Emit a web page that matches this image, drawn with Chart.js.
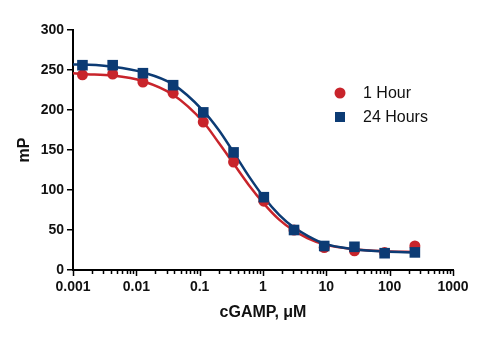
<!DOCTYPE html>
<html>
<head>
<meta charset="utf-8">
<script src="https://cdn.jsdelivr.net/npm/chart.js@4"></script>
<style>
  html, body { margin: 0; padding: 0; background: #fff; }
  #wrap { width: 500px; height: 337px; }
</style>
</head>
<body>
<div id="wrap"><canvas id="chart" width="500" height="337"></canvas></div>
<script>
// Donnees (concentrations cGAMP en uM, dilutions 1:3)
var conc = [0.00141, 0.00423, 0.0127, 0.0381, 0.114, 0.343, 1.03, 3.09, 9.26, 27.8, 83.3, 250]
var mp1h = [244, 245, 235, 221, 185, 135, 86, 50, 28, 24, 22, 30]
var mp24h = [256, 256, 246, 231, 197, 147, 91, 50, 30, 29, 21, 22]

// Courbes ajustees
var curveX = [0.001, 0.00141, 0.00423, 0.0127, 0.0381, 0.114, 0.2, 0.343, 0.6, 1.03, 1.8, 3.09, 5, 9.26, 27.8, 83.3, 250]
var curve1h = [246, 245, 243, 236, 219, 185, 159, 133, 106, 83, 63, 49, 40, 32, 26, 23.5, 22.5]
var curve24h = [257, 257, 254, 247, 232, 199, 175, 147, 117, 91, 69, 53, 43, 33, 26, 23, 22]

var labels = ['1 Hour', '24 Hours']
var decades = [0.001, 0.01, 0.1, 1, 10, 100, 1000]

var red = '#C8242B'
var blue = '#0C3B74'

function toPoints(xs, ys){
    var pts = []
    for (var i = 0; i < xs.length; i++){
        pts.push({x: xs[i], y: ys[i]})
    }
    return pts
}

// Legende dessinee dans la zone du graphique
var legendPlugin = {
    id: 'legendeInterne',
    afterDraw: function(chart){
        var ctx = chart.ctx
        var items = [
            {label: labels[0], color: red, style: 'circle'},
            {label: labels[1], color: blue, style: 'rect'}
        ]
        ctx.save()
        ctx.font = '16px "Liberation Sans", Arial, sans-serif'
        ctx.textBaseline = 'middle'
        for (var i = 0; i < items.length; i++){
            var y = 93 + i * 24
            ctx.fillStyle = items[i].color
            if (items[i].style == 'circle'){
                ctx.beginPath()
                ctx.arc(340, y, 5.5, 0, Math.PI * 2)
                ctx.fill()
            } else {
                ctx.fillRect(335, y - 5, 10, 10)
            }
            ctx.fillStyle = '#111'
            ctx.fillText(items[i].label, 363, y + 1)
        }
        ctx.restore()
    }
}

// Graduations de l'axe x (majeures longues, mineures courtes)
var ticksPlugin = {
    id: 'graduationsX',
    afterDraw: function(chart){
        var scale = chart.scales.x
        var ctx = chart.ctx
        var y0 = scale.top
        ctx.save()
        ctx.strokeStyle = '#000'
        ctx.lineWidth = 1.5
        for (var i = 0; i < scale.ticks.length; i++){
            var v = scale.ticks[i].value
            var lg = Math.log10(v)
            var major = Math.abs(lg - Math.round(lg)) < 1e-6
            var px = Math.round(scale.getPixelForValue(v)) + 0.5
            ctx.beginPath()
            ctx.moveTo(px, y0)
            ctx.lineTo(px, y0 + (major ? 6 : 4))
            ctx.stroke()
        }
        ctx.restore()
    }
}

const config = {
    type: 'scatter',
    data: {
        datasets: [
            {
                label: labels[0] + ' fit',
                data: toPoints(curveX, curve1h),
                showLine: true,
                borderColor: red,
                borderWidth: 2.5,
                pointRadius: 0,
                cubicInterpolationMode: 'monotone',
                order: 4
            },
            {
                label: labels[1] + ' fit',
                data: toPoints(curveX, curve24h),
                showLine: true,
                borderColor: blue,
                borderWidth: 2.5,
                pointRadius: 0,
                cubicInterpolationMode: 'monotone',
                order: 3
            },
            {
                label: labels[0],
                data: toPoints(conc, mp1h),
                pointStyle: 'circle',
                pointRadius: 5.5,
                backgroundColor: red,
                borderColor: red,
                borderWidth: 0,
                order: 2
            },
            {
                label: labels[1],
                data: toPoints(conc, mp24h),
                pointStyle: 'rect',
                pointRadius: 7.5,
                backgroundColor: blue,
                borderColor: blue,
                borderWidth: 0,
                order: 1
            }
        ]
    },
    options: {
        responsive: false,
        animation: false,
        layout: { padding: { top: 30, right: 47, left: 0, bottom: 0 } },
        plugins: {
            legend: { display: false },
            tooltip: { enabled: false }
        },
        scales: {
            x: {
                type: 'logarithmic',
                min: 0.001,
                max: 1000,
                afterFit: function(scale){ scale.height = 67 },
                afterBuildTicks: function(scale){
                    var t = []
                    for (var d = 0; d < decades.length; d++){
                        t.push({value: decades[d]})
                        if (d < decades.length - 1){
                            for (var k = 2; k <= 9; k++){
                                t.push({value: decades[d] * k})
                            }
                        }
                    }
                    scale.ticks = t
                },
                grid: { display: false, drawTicks: false },
                border: { display: true, color: '#000', width: 2 },
                ticks: {
                    autoSkip: false,
                    maxRotation: 0,
                    padding: 9,
                    color: '#111',
                    font: { family: '"Liberation Sans", Arial, sans-serif', size: 14, weight: 'bold' },
                    callback: function(value){
                        var lg = Math.log10(value)
                        if (Math.abs(lg - Math.round(lg)) < 1e-6){
                            return decades[Math.round(lg) + 3].toString()
                        }
                        return ''
                    }
                },
                title: {
                    display: true,
                    text: 'cGAMP, \u03BCM',
                    color: '#111',
                    padding: { top: 0, bottom: 15 },
                    font: { family: '"Liberation Sans", Arial, sans-serif', size: 16, weight: 'bold' }
                }
            },
            y: {
                min: 0,
                max: 300,
                afterFit: function(scale){ scale.width = 73 },
                grid: { display: true, drawOnChartArea: false, drawTicks: true, tickLength: 6, color: '#000', lineWidth: 1.5 },
                border: { display: true, color: '#000', width: 2 },
                ticks: {
                    stepSize: 50,
                    padding: 3,
                    color: '#111',
                    font: { family: '"Liberation Sans", Arial, sans-serif', size: 14, weight: 'bold' }
                },
                title: {
                    display: true,
                    text: 'mP',
                    color: '#111',
                    padding: { top: 15, bottom: 0 },
                    font: { family: '"Liberation Sans", Arial, sans-serif', size: 16, weight: 'bold' }
                }
            }
        }
    },
    plugins: [legendPlugin, ticksPlugin]
};

window.onload = function() {
    var ctx = document.getElementById('chart').getContext('2d');
    var myChart = new Chart(ctx, config);
};
</script>
</body>
</html>
